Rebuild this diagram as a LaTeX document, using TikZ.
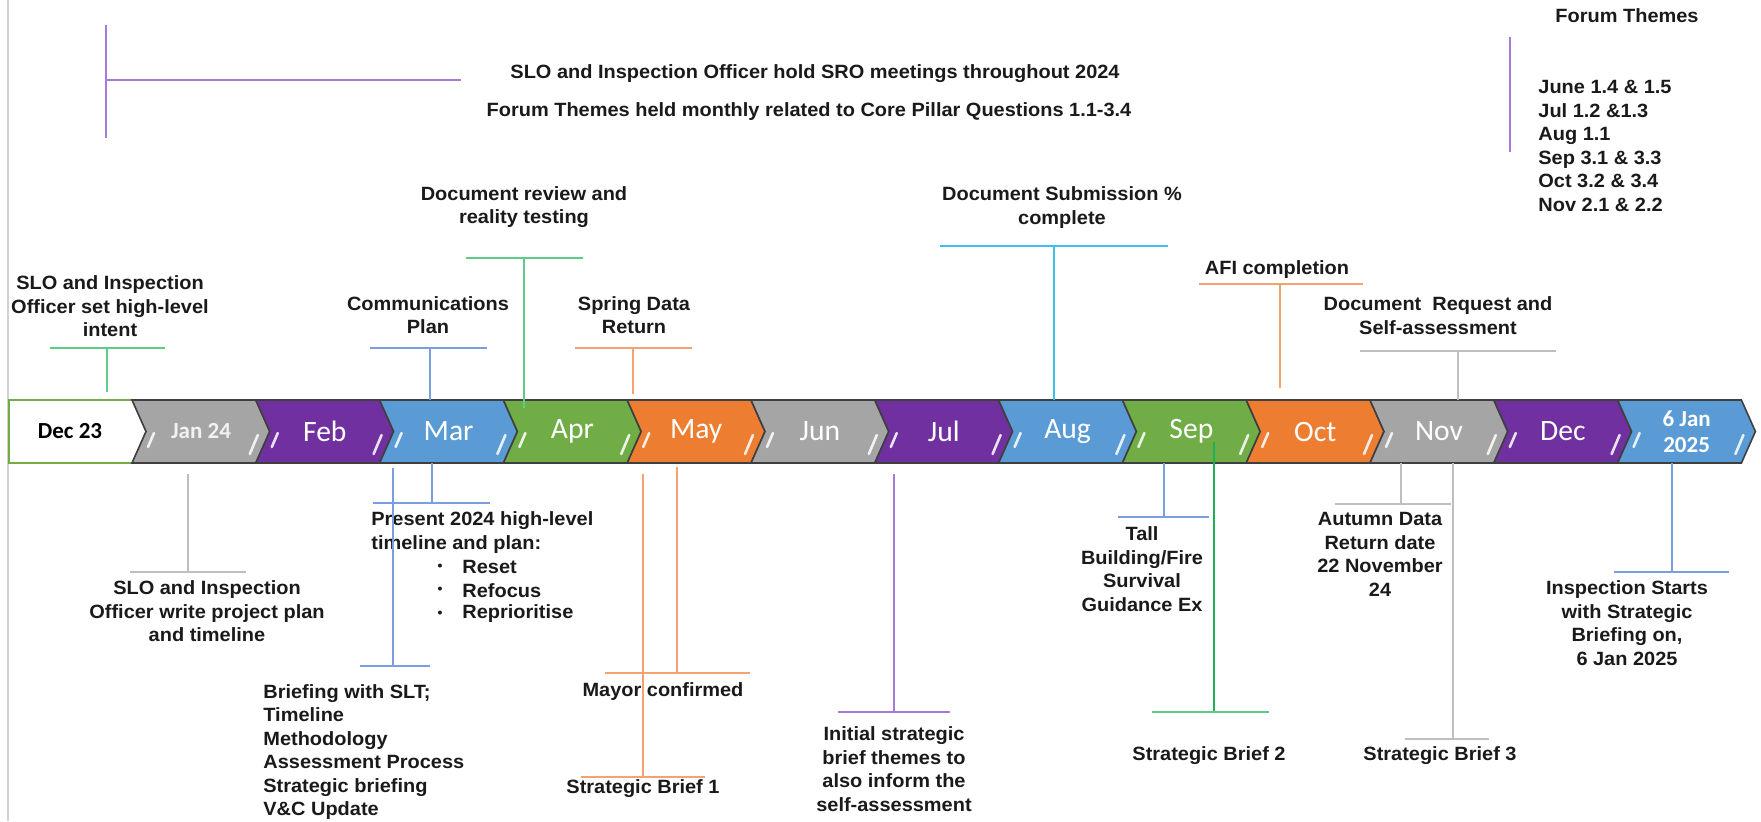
\documentclass[tikz,border=0pt]{standalone}
\usepackage{fontspec}
\setmainfont[FakeStretch=1.04]{Liberation Sans}
\newfontfamily\carlito{Carlito}
\definecolor{cgrey}{HTML}{A5A5A5}
\definecolor{cpurple}{HTML}{7030A0}
\definecolor{cblue}{HTML}{5B9BD5}
\definecolor{cgreen}{HTML}{70AD47}
\definecolor{corange}{HTML}{ED7D31}
\definecolor{edgec}{HTML}{3F3F3F}
\definecolor{lgreen}{HTML}{5DCB8A}
\definecolor{dgreen}{HTML}{1FAF55}
\definecolor{lblue}{HTML}{7A9EE0}
\definecolor{lorange}{HTML}{F4A26F}
\definecolor{lgrey}{HTML}{BFBFBF}
\definecolor{lpurple}{HTML}{A47BD8}
\definecolor{lcyan}{HTML}{3DBDF0}
\definecolor{txt}{HTML}{1A1A1A}
\newcommand\lblfont{\fontsize{9.6}{11.75}\selectfont\bfseries}
\begin{document}
\begin{tikzpicture}[x=0.5pt,y=-0.5pt,
  lbl/.style={font=\lblfont, text=txt, align=center, inner sep=0pt},
  lbll/.style={font=\lblfont, text=txt, align=left, inner sep=0pt},
  conn/.style={line width=0.9pt},
  chev/.style={draw=edgec, line width=0.8pt, line join=miter},
  hl/.style={draw=white, opacity=0.85, line width=1.3pt, line cap=round},
  mon/.style={font=\carlito\fontsize{14.8}{16}\selectfont, text=white, inner sep=0pt},
  monb/.style={font=\carlito\fontsize{11.5}{13}\selectfont\bfseries, inner sep=0pt, align=center}]
\useasboundingbox (0,0) rectangle (1761,821);
\fill[white] (0,0) rectangle (1761,821);
\draw[color=lgrey!70, line width=0.6pt] (8,0) -- (8,821);

% Dec 23 box
\draw[draw=cgreen, fill=white, line width=0.9pt] (9,400) rectangle (152,463);
\node[monb, text=black] (dec23) at (70,431.5) {Dec 23};

% chevrons
\foreach \i/\col in {0/cgrey,1/cpurple,2/cblue,3/cgreen,4/corange,5/cgrey,6/cpurple,7/cblue,8/cgreen,9/corange,10/cgrey,11/cpurple,12/cblue} {
  \pgfmathsetmacro\L{132+123.8*\i}
  \pgfmathsetmacro\R{\L+123.8}
  \draw[chev,fill=\col] (\L,400) -- (\R,400) -- (\R+14,431.5) -- (\R,463) -- (\L,463) -- (\L+14,431.5) -- cycle;
  \draw[hl] (\L+16,447) -- (\L+22,433);
  \draw[hl] (\R-6,454) -- (\R+2,435);
  \coordinate (m\i) at (\L+69,431.5);
}
\node[monb, text=white!95!black] at (m0) {Jan 24};
\node[mon] at (m1) {Feb};
\node[mon] at (m2) {Mar};
\node[mon] at (m3) {Apr};
\node[mon] at (m4) {May};
\node[mon] at (m5) {Jun};
\node[mon] at (m6) {Jul};
\node[mon] at (m7) {Aug};
\node[mon] at (m8) {Sep};
\node[mon] at (m9) {Oct};
\node[mon] at (m10) {Nov};
\node[mon] at (m11) {Dec};
\node[monb, text=white] at (m12) {6 Jan\\2025};

% ---------- top purple bracket and texts
\coordinate (pbT) at (106,25); \coordinate (pbB) at (106,138);
\coordinate (pbM) at (106,80); \coordinate (pbE) at (461,80);
\draw[conn, lpurple] (pbT) -- (pbB);
\draw[conn, lpurple] (pbM) -- (pbE);
\node[lbl] (sro) at (815,74) {SLO and Inspection Officer hold SRO meetings throughout 2024};
\node[lbl] (forum) at (809,112) {Forum Themes held monthly related to Core Pillar Questions 1.1-3.4};

\node[lbl] (fthemes) at (1627,16) {Forum Themes};
\coordinate (fvT) at (1510,37); \coordinate (fvB) at (1510,152);
\draw[conn, lpurple] (fvT) -- (fvB);
\node[font=\lblfont, text=txt, align=left, inner sep=0pt, anchor=west] (flist) at (1538,146)
  {\fontsize{9.6}{11.8}\selectfont June 1.4 \& 1.5\\Jul 1.2 \&1.3\\Aug 1.1\\Sep 3.1 \& 3.3\\Oct 3.2 \& 3.4\\Nov 2.1 \& 2.2};

% ---------- top callouts
% A
\draw[conn, lgreen] (50,348) -- (165,348);
\draw[conn, lgreen] (107,348) -- (107,392);
\node[lbl] (tA) at (110,306.5) {SLO and Inspection\\Officer set high-level\\intent};
% B
\draw[conn, lblue] (370,348) -- (487,348);
\draw[conn, lblue] (430,348) -- (430,400);
\node[lbl] (tB) at (428,315) {Communications\\Plan};
% C
\draw[conn, lgreen] (466,258) -- (583,258);
\draw[conn, lgreen] (524,258) -- (524,408);
\node[lbl] (tC) at (524,207) {Document review and\\reality testing};
% D
\draw[conn, lorange] (575,348) -- (692,348);
\draw[conn, lorange] (633,348) -- (633,394);
\node[lbl] (tD) at (634,315) {Spring Data\\Return};
% E
\draw[conn, lcyan] (940,246) -- (1168,246);
\draw[conn, lcyan] (1054,246) -- (1054,400);
\node[lbl] (tE) at (1062,207.5) {Document Submission \%\\complete};
% F
\draw[conn, lorange] (1199,284) -- (1363,284);
\draw[conn, lorange] (1280,284) -- (1280,388);
\node[lbl] (tF) at (1277,270) {AFI completion};
% G
\draw[conn, lgrey] (1360,351) -- (1556,351);
\draw[conn, lgrey] (1458,351) -- (1458,400);
\node[lbl] (tG) at (1438,315.5) {Document~~Request and\\Self-assessment};

% ---------- bottom callouts
% J
\draw[conn, lgrey] (188,474) -- (188,572);
\draw[conn, lgrey] (130,572) -- (246,572);
\node[lbl] (bJ) at (207,611.5) {SLO and Inspection\\Officer write project plan\\and timeline};
% K
\draw[conn, lblue] (432,463) -- (432,503);
\draw[conn, lblue] (373,503) -- (490,503);
\node[lbll, anchor=west] (bK) at (371,532.5) {Present 2024 high-level\\timeline and plan:};
\foreach \y/\t in {567/Reset,590.5/Refocus,614/Reprioritise} {
  \node[font=\lblfont, text=txt, inner sep=0pt] at (440,\y) {\scalebox{0.7}{\textbullet}};
  \node[lbll, anchor=west] at (462,\y) {\t};
}
% L
\draw[conn, lblue] (393,468) -- (393,666);
\draw[conn, lblue] (360,666) -- (430,666);
\node[lbll, anchor=west] (bL) at (263,752) {Briefing with SLT;\\Timeline\\Methodology\\Assessment Process\\Strategic briefing\\V\&C Update};
% M
\draw[conn, lorange] (677,467) -- (677,673);
\draw[conn, lorange] (605,673) -- (750,673);
\node[lbl] (bM) at (663,692) {Mayor confirmed};
% N
\draw[conn, lorange] (643,474) -- (643,777);
\draw[conn, lorange] (581,777) -- (705,777);
\node[lbl] (bN) at (643,789) {Strategic Brief 1};
% O
\draw[conn, lpurple] (894,474) -- (894,712);
\draw[conn, lpurple] (838,712) -- (950,712);
\node[lbl] (bO) at (894,769) {Initial strategic\\brief themes to\\also inform the\\self-assessment};
% P
\draw[conn, lblue] (1164,463) -- (1164,517);
\draw[conn, lblue] (1118,517) -- (1209,517);
\node[lbl] (bP) at (1142,569) {Tall\\Building/Fire\\Survival\\Guidance Ex};
% Q
\draw[conn, dgreen] (1214,442) -- (1214,712);
\draw[conn, lgreen] (1152,712) -- (1269,712);
\node[lbl] (bQ) at (1209,756) {Strategic Brief 2};
% R
\draw[conn, lgrey] (1401,463) -- (1401,504);
\draw[conn, lgrey] (1335,504) -- (1451,504);
\node[lbl] (bR) at (1380,554.5) {Autumn Data\\Return date\\22 November\\24};
% S
\draw[conn, lgrey] (1453,463) -- (1453,739);
\draw[conn, lgrey] (1405,739) -- (1489,739);
\node[lbl] (bS) at (1440,756) {Strategic Brief 3};
% T
\draw[conn, lblue] (1672,463) -- (1672,572);
\draw[conn, lblue] (1614,572) -- (1729,572);
\node[lbl] (bT) at (1627,623) {Inspection Starts\\with Strategic\\Briefing on,\\ 6 Jan 2025};
\end{tikzpicture}
\end{document}
